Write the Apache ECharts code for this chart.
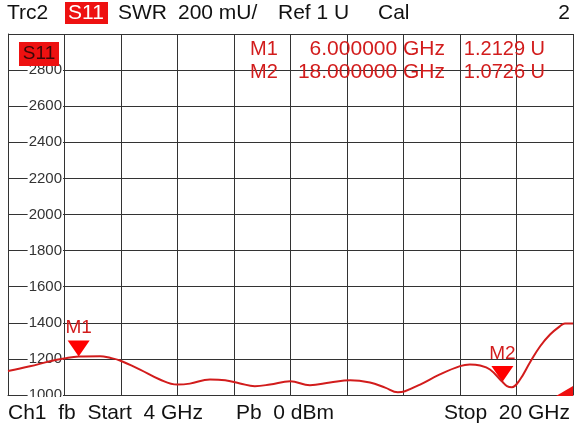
<!DOCTYPE html>
<html>
<head>
<meta charset="utf-8">
<script src="https://cdn.jsdelivr.net/npm/echarts@6/dist/echarts.min.js"></script>
<style>
  html, body { margin: 0; padding: 0; background: #fff; }
  #chart { width: 576px; height: 430px; }
</style>
</head>
<body>
<div id="chart"></div>
<script>
// trace data: frequency (GHz) and SWR (mU)
var freqGHz = [4.00, 4.62, 5.19, 5.59, 6.00, 6.61, 6.89, 7.17, 7.74, 8.30, 8.79, 9.15, 9.72, 10.15, 10.57,
  10.99, 11.42, 11.99, 12.55, 13.12, 13.69, 14.25, 14.68, 15.04, 15.24, 15.67, 16.23, 16.80, 17.08,
  17.37, 17.65, 18.00, 18.13, 18.27, 18.50, 18.78, 19.07, 19.35, 19.63, 19.77, 20.00];
var swrMilli = [1133, 1159, 1187, 1202, 1213, 1215, 1206, 1191, 1141, 1086, 1058, 1063, 1086, 1082, 1064,
  1049, 1058, 1076, 1054, 1069, 1082, 1069, 1041, 1015, 1021, 1058, 1114, 1160, 1169,
  1163, 1141, 1073, 1049, 1043, 1086, 1180, 1270, 1335, 1381, 1396, 1396];

// markers
var markerNames = ["M1", "M2"];
var markerFreq = [6, 18];
var markerValue = [1212.9, 1072.6];
var markerFreqText = ["6.000000 GHz", "18.000000 GHz"];
var markerValueText = ["1.2129 U", "1.0726 U"];

var chart = echarts.init(document.getElementById("chart"));

var pts = [];
for (var i = 0; i < freqGHz.length; i++) {
  pts.push([freqGHz[i], swrMilli[i]]);
}
var mpData = [];
for (var j = 0; j < markerNames.length; j++) {
  mpData.push({ name: markerNames[j], coord: [markerFreq[j], markerValue[j]], label: { formatter: markerNames[j] } });
}

var font = "Liberation Sans, Arial, sans-serif";
var red = "#d21c1c";

function txt(x, y, s, opt) {
  opt = opt || {};
  return {
    type: "text", x: x, y: y, z: 20,
    style: {
      text: s, fill: opt.fill || "#111", font: (opt.size || 21) + "px " + font,
      textAlign: opt.align || "left", textVerticalAlign: "middle"
    }
  };
}

var graphics = [
  { type: "rect", z: 15, shape: { x: 0, y: 397, width: 576, height: 5 }, style: { fill: "#fff" } },
  txt(7, 13, "Trc2"),
  { type: "rect", z: 19, shape: { x: 65, y: 2, width: 43, height: 22 }, style: { fill: "#ee1111" } },
  txt(86, 13, "S11", { fill: "#fff", align: "center" }),
  txt(118, 13, "SWR"),
  txt(178, 13, "200 mU/"),
  txt(278, 13, "Ref 1 U"),
  txt(378, 13, "Cal"),
  txt(570, 13, "2", { align: "right" }),
  { type: "rect", z: 19, shape: { x: 19, y: 42, width: 40, height: 24 }, style: { fill: "#ee1111" } },
  txt(39, 54, "S11", { fill: "#3a0808", align: "center", size: 19 }),
  txt(8, 413, "Ch1  fb  Start  4 GHz"),
  txt(236, 413, "Pb  0 dBm"),
  txt(570, 413, "Stop  20 GHz", { align: "right" }),
  { type: "polygon", z: 16, shape: { points: [[556, 396], [573, 396], [573, 386]] }, style: { fill: "#ee1111" } }
];
for (var k = 0; k < markerNames.length; k++) {
  var yy = 49 + k * 23;
  graphics.push(txt(250, yy, markerNames[k], { fill: red, size: 20 }));
  graphics.push(txt(445, yy, markerFreqText[k], { fill: red, size: 21, align: "right" }));
  graphics.push(txt(545, yy, markerValueText[k], { fill: red, size: 20, align: "right" }));
}

var option = {
  animation: false,
  backgroundColor: "#fff",
  grid: { left: 8, right: 3, top: 34, bottom: 35, show: false },
  xAxis: [
    {
      type: "value", min: 4, max: 20,
      axisLine: { show: false }, axisTick: { show: false }, axisLabel: { show: false },
      splitLine: { show: false }
    },
    {
      // 10 screen divisions
      type: "value", min: 0, max: 10, interval: 1, position: "bottom",
      axisLine: { show: true, lineStyle: { color: "#333", width: 1 } },
      axisTick: { show: false }, axisLabel: { show: false },
      splitLine: { show: true, lineStyle: { color: "#333", width: 1 } }
    }
  ],
  yAxis: [
    {
      type: "value", min: 1000, max: 3000, interval: 200,
      axisLine: { show: true, lineStyle: { color: "#333" } },
      axisTick: { show: false }, axisLabel: { show: false },
      splitLine: { show: true, lineStyle: { color: "#333", width: 1 } }
    },
    {
      type: "value", min: 1000, max: 3000, interval: 200, position: "left", offset: -56, z: 5,
      axisLine: { show: false }, axisTick: { show: false },
      splitLine: { show: false },
      axisLabel: {
        show: true, showMaxLabel: false, margin: 1, color: "#333", fontSize: 15, fontFamily: font,
        backgroundColor: "#fff", padding: [2, 1, 2, 1],
        formatter: function (v) { return String(v); }
      }
    }
  ],
  graphic: graphics,
  series: [
    {
      type: "line", xAxisIndex: 0, yAxisIndex: 0, data: pts, smooth: 0.4,
      symbol: "none", lineStyle: { color: red, width: 2 }, z: 10,
      markPoint: {
        symbol: "triangle", symbolRotate: 180, symbolSize: [22, 16], symbolOffset: [0, -8],
        itemStyle: { color: "#ff0000" },
        label: { show: true, position: "top", distance: 3, color: red, fontSize: 19, fontFamily: font },
        data: mpData
      }
    }
  ]
};
chart.setOption(option);
</script>
</body>
</html>
